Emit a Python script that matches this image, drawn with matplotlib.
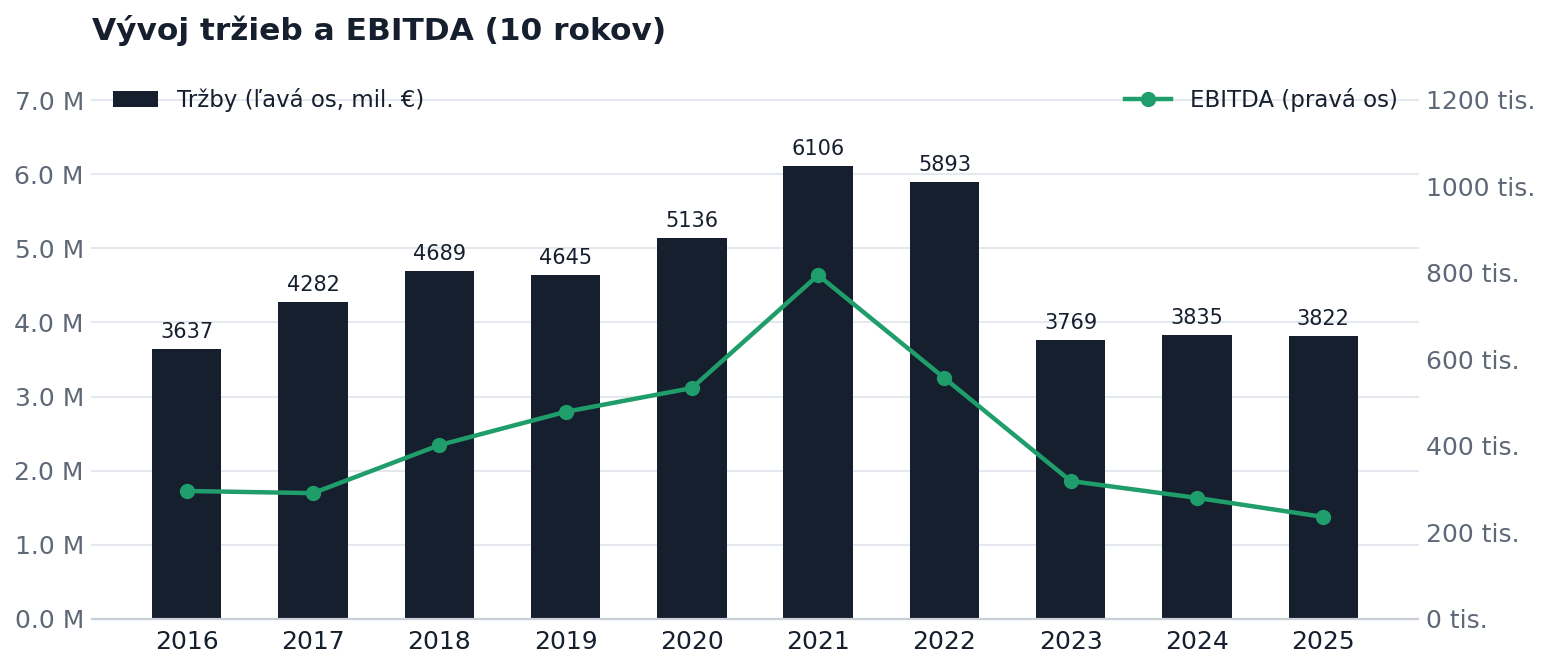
import matplotlib.pyplot as plt
from matplotlib.ticker import FuncFormatter, MultipleLocator

years = ["2016", "2017", "2018", "2019", "2020", "2021", "2022", "2023", "2024", "2025"]
trzby = [3637, 4282, 4689, 4645, 5136, 6106, 5893, 3769, 3835, 3822]   # tis. €
ebitda = [296, 291, 402, 479, 534, 795, 557, 319, 280, 236]             # tis. €

NAVY = "#161f2e"
GREEN = "#1f9d6a"
GRAY = "#5f6877"
GRID = "#e5e8ee"

plt.rcParams['font.family'] = ['DejaVu Sans']

fig = plt.figure(figsize=(15.5, 6.65), dpi=100)
ax = fig.add_axes([92/1550, 1-619/665, (1418-92)/1550, (619-100)/665])
ax2 = ax.twinx()

x = list(range(len(years)))
bars = ax.bar(x, trzby, width=0.55, color=NAVY, zorder=2, label="Tržby (ľavá os, mil. €)")
for xi, v in zip(x, trzby):
    ax.annotate(str(v), (xi, v), xytext=(0, 5), textcoords="offset points",
                ha="center", va="bottom", fontsize=15, color=NAVY)

ax2.plot(x, ebitda, color=GREEN, lw=3.2, marker="o", ms=10, zorder=3,
         label="EBITDA (pravá os)")

ax.set_xlim(-0.75, len(years) - 0.25)
ax.set_ylim(0, 7000)
ax2.set_ylim(0, 1200)
ax.yaxis.set_major_locator(MultipleLocator(1000))
ax2.yaxis.set_major_locator(MultipleLocator(200))
ax.yaxis.set_major_formatter(FuncFormatter(lambda v, p: f"{v/1000:.1f} M"))
ax2.yaxis.set_major_formatter(FuncFormatter(lambda v, p: f"{v:.0f} tis."))

ax.set_xticks(x)
ax.set_xticklabels(years)
ax.tick_params(axis="x", length=0, pad=8, labelsize=18, labelcolor=NAVY)
ax.tick_params(axis="y", length=0, pad=5.8, labelsize=18, labelcolor=GRAY)
ax2.tick_params(axis="y", length=0, pad=5.5, labelsize=18, labelcolor=GRAY)

ax.grid(axis="y", color=GRID, lw=1.5, zorder=0)
ax.set_axisbelow(True)
for gl in ax.get_ygridlines():
    gl.set_clip_on(False)
for a in (ax, ax2):
    for s in ("top", "left", "right"):
        a.spines[s].set_visible(False)
    a.spines["bottom"].set_color("#c9ced7")
    a.spines["bottom"].set_linewidth(1.5)

# line above bars
ax.set_zorder(1)
ax2.set_zorder(2)
ax2.patch.set_visible(False)

ax.legend(loc="center left", bbox_to_anchor=(0.0, 1.0), frameon=False,
          fontsize=16.5, labelcolor=NAVY, handlelength=2.0, handleheight=0.7)
ax2.legend(loc="center right", bbox_to_anchor=(1.0, 1.0), frameon=False,
           fontsize=16.5, labelcolor=NAVY, handlelength=2.0)

fig.text(92/1550, 1-40/665, "Vývoj tržieb a EBITDA (10 rokov)", fontsize=22.5,
         fontweight="bold", color=NAVY, ha="left", va="baseline")

fig.savefig("out.png", dpi=100)
